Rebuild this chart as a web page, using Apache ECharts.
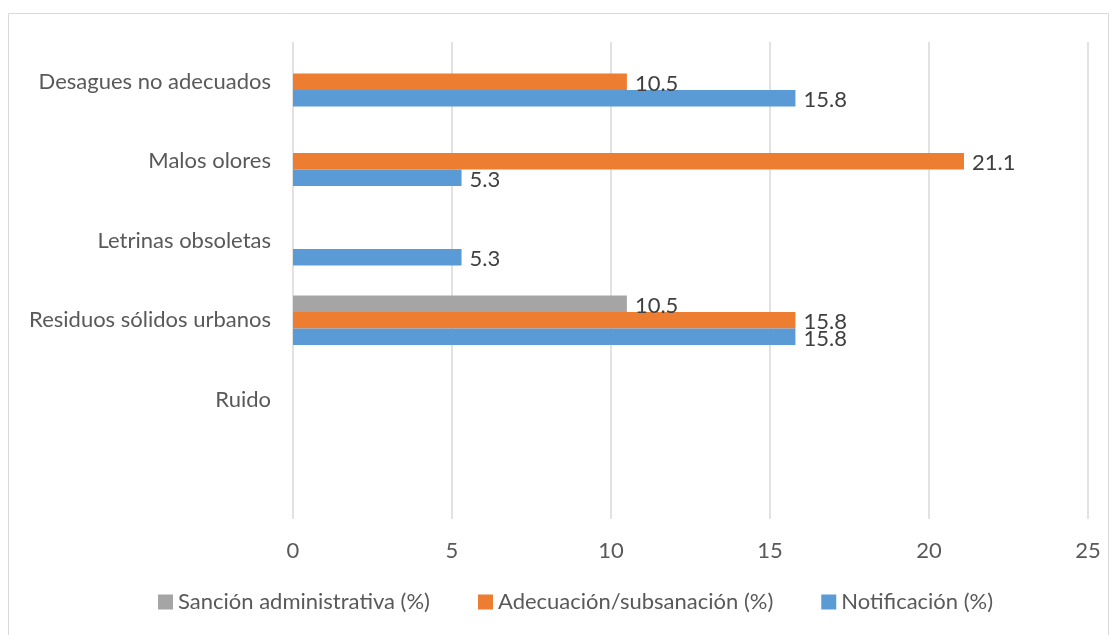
<!DOCTYPE html>
<html>
<head>
<meta charset="utf-8">
<script src="https://cdn.jsdelivr.net/npm/echarts@6/dist/echarts.min.js"></script>
<style>
html,body{margin:0;padding:0;background:#fff;}
#c{width:1117px;height:635px;}
</style>
</head>
<body>
<div id="c"></div>
<script>
const categories = ['', 'Ruido', 'Residuos sólidos urbanos', 'Letrinas obsoletas', 'Malos olores', 'Desagues no adecuados'];
const notificacion = [null, null, 15.8, 5.3, 5.3, 15.8];
const adecuacion = [null, null, 15.8, null, 21.1, 10.5];
const sancion = [null, null, 10.5, null, null, null];
const xTicks = [0, 5, 10, 15, 20, 25];

const FONT = 'Lato';
const FS = 22;
const chart = echarts.init(document.getElementById('c'));
const label = {show: true, position: 'right', distance: 8, color: '#404040', fontSize: FS, fontFamily: FONT, offset: [0, 2]};
chart.setOption({
  animation: false,
  graphic: [{type: 'rect', shape: {x: 8.5, y: 13.5, width: 1100, height: 640}, style: {fill: 'none', stroke: '#d9d9d9', lineWidth: 1}}],
  grid: {left: 293, right: 29, top: 42, bottom: 116},
  legend: {
    data: ['Sanción administrativa (%)', 'Adecuación/subsanación (%)', 'Notificación (%)'],
    bottom: 17, left: 153, itemWidth: 15, itemHeight: 15, itemGap: 48,
    icon: 'rect',
    textStyle: {color: '#595959', fontSize: FS, fontFamily: FONT}
  },
  xAxis: {
    type: 'value', min: xTicks[0], max: xTicks[xTicks.length - 1], interval: 5,
    axisLine: {show: false}, axisTick: {show: false},
    splitLine: {lineStyle: {color: '#d9d9d9', width: 1.5}},
    axisLabel: {color: '#595959', fontSize: FS, fontFamily: FONT, margin: 21}
  },
  yAxis: {
    type: 'category', data: categories,
    axisLine: {show: false}, axisTick: {show: false},
    axisLabel: {color: '#595959', fontSize: FS, fontFamily: FONT, margin: 22, interval: 0}
  },
  series: [
    {name: 'Sanción administrativa (%)', type: 'bar', data: sancion, itemStyle: {color: '#A5A5A5'}, label: label, barGap: '0%', barCategoryGap: '38%'},
    {name: 'Adecuación/subsanación (%)', type: 'bar', data: adecuacion, itemStyle: {color: '#ED7D31'}, label: label, barGap: '0%', barCategoryGap: '38%'},
    {name: 'Notificación (%)', type: 'bar', data: notificacion, itemStyle: {color: '#5B9BD5'}, label: label, barGap: '0%', barCategoryGap: '38%'}
  ]
});
</script>
</body>
</html>
